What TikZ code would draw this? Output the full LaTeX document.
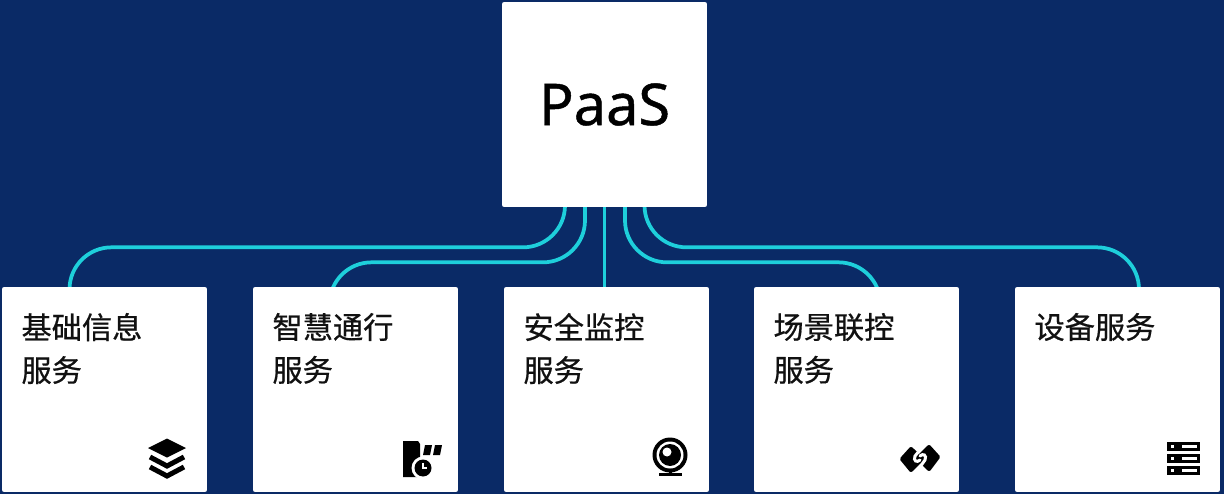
\documentclass[tikz,border=0pt]{standalone}
\usepackage{fontspec}
\usepackage{xcolor}
\usetikzlibrary{backgrounds, calc}
\newfontfamily\cjk[FakeBold=0.6]{Noto Sans CJK SC}
\newfontfamily\latin[FakeBold=0.8]{Noto Sans}
\definecolor{PAASnavy}{HTML}{0A2A66}
\definecolor{PAAScyan}{HTML}{1ECFDB}
\definecolor{PAASink}{HTML}{111111}
\tikzset{
  card/.style={fill=white, rounded corners=1.2pt, minimum width=4.1cm, minimum height=4.1cm, inner sep=0pt},
  cardtext/.style={anchor=north west, inner sep=0pt, align=left, text=PAASink, font=\cjk\fontsize{17.2}{24.4}\selectfont},
  link/.style={PAAScyan, line width=0.075cm, rounded corners=0.84cm},
  glyph/.style={black, line width=0.1cm, line join=miter}
}
\begin{document}
\begin{tikzpicture}[x=0.02cm, y=0.02cm]
  \useasboundingbox (0,0) rectangle (1224,494);
  \node[card, font=\latin\fontsize{32.8}{36}\selectfont, text=black] (paas) at (604.5,389.5) {PaaS};
  \foreach \name/\x/\txt in {base/104.5/基础信息\\服务, smart/355.5/智慧通行\\服务, secu/606.5/安全监控\\服务, scene/856.5/场景联控\\服务, device/1117.5/设备服务}{
    \node[card] (\name) at (\x,104.5) {};
    \node[cardtext] (\name-text) at ($(\name.north west)+(19.5,-26)$) {\txt};
  }
  \begin{scope}[on background layer]
    \fill[PAASnavy] (0,0) rectangle (1224,494);
    \draw[link] ($(paas.south)+(-39.5,20)$) -- ++(0,-60) -| ($(base.north)+(-35,-20)$);
    \draw[link] ($(paas.south)+(-19.5,20)$) -- ++(0,-75) -| ($(smart.north)+(-26,-20)$);
    \draw[PAAScyan, line width=0.075cm] (paas.south) -- (paas.south |- secu.north);
    \draw[link] ($(paas.south)+(20.5,20)$) -- ++(0,-75) -| ($(scene.north)+(24,-20)$);
    \draw[link] ($(paas.south)+(40,20)$) -- ++(0,-60) -| ($(device.north)+(21.5,-20)$);
  \end{scope}
  % layers
  \begin{scope}[shift={(167,34)}]
    \fill (-19,12) -- (0,21.5) -- (19,12) -- (0,2.5) -- cycle;
    \draw[glyph] (-17,3) -- (0,-6) -- (17,3);
    \draw[glyph] (-17,-7) -- (0,-16) -- (17,-7);
  \end{scope}
  % barrier with clock
  \begin{scope}[shift={(422,35)}]
    \fill (-19,18) -- (-4,18) -- (-2,15) -- (-2,-18) -- (-19,-18) -- cycle;
    \fill (3,14) -- (10,14) -- (8,4) -- (1,4) -- cycle;
    \fill (13,14) -- (20,14) -- (18,4) -- (11,4) -- cycle;
    \fill[white] (1,-9) circle (11.5);
    \fill (1,-9) circle (8.5);
    \draw[white, line width=0.03cm] (1,-4) -- (1,-9) -- (5,-9);
  \end{scope}
  % webcam
  \begin{scope}[shift={(670,39)}]
    \fill (0,0) circle (17.5);
    \fill[white] (0,0) circle (13.5);
    \fill (0,0) circle (11);
    \fill[white] (-3,3) circle (4.5);
    \fill (-11,-20.5) rectangle (12,-17.5);
    \fill (-1,-20) rectangle (1.5,-16);
  \end{scope}
  % interlocked links
  \begin{scope}[shift={(920,35)}]
    \fill[line join=round, draw, line width=0.08cm] (-18,0) -- (-9,10) -- (2,0) -- (-9,-11) -- cycle;
    \fill[line join=round, draw, line width=0.08cm] (18,2) -- (9,12) -- (-2,1) -- (9,-10) -- cycle;
    \draw[white, line width=0.06cm, line cap=round] (0,9) -- (-5,3) .. controls (-7,-2) and (-3,-4) .. (0,-1);
    \draw[white, line width=0.06cm, line cap=round] (0,-8) -- (5,-1) .. controls (7,4) and (3,6) .. (0,3);
  \end{scope}
  % server rack
  \begin{scope}[shift={(1183,36)}]
    \foreach \y in {12,0,-12}{
      \fill (-16.5,\y-4.5) rectangle (16.5,\y+4.5);
      \fill[white] (-12,\y-1.5) rectangle (-9,\y+1.5);
      \fill[white] (-1,\y-1.5) rectangle (14,\y+1.5);
    }
  \end{scope}
\end{tikzpicture}
\end{document}
